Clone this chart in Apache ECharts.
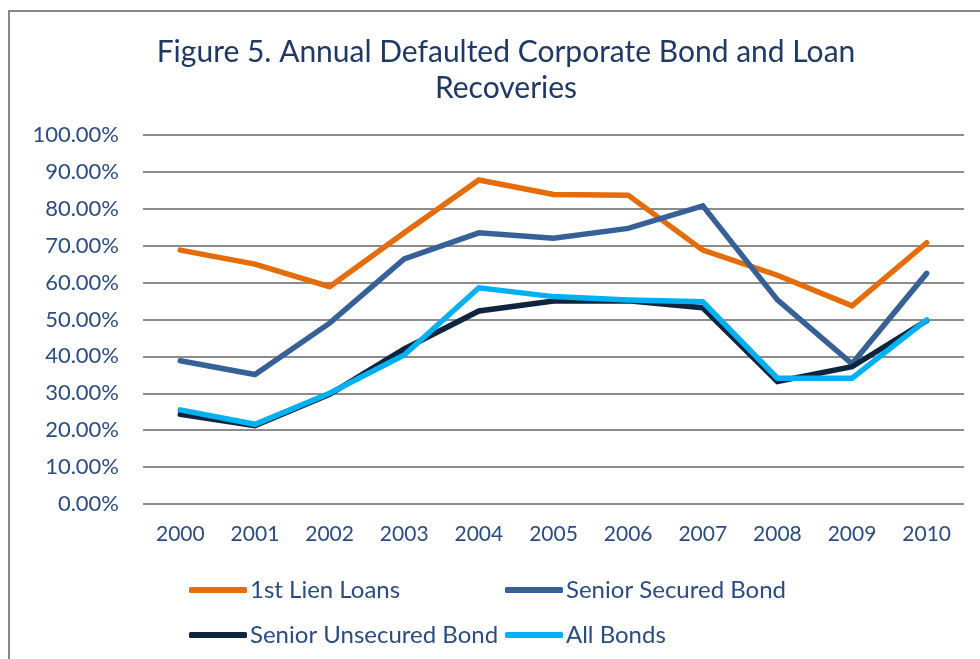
<!DOCTYPE html>
<html>
<head>
<meta charset="utf-8">
<script src="https://cdn.jsdelivr.net/npm/echarts@6/dist/echarts.min.js"></script>
<style>html,body{margin:0;padding:0;background:#fff}#c{width:980px;height:659px}</style>
</head>
<body>
<div id="c"></div>
<script>
const years = ['2000','2001','2002','2003','2004','2005','2006','2007','2008','2009','2010'];
const firstLienLoans = [68.8, 65.0, 58.9, 73.5, 87.8, 83.9, 83.7, 68.8, 62.0, 53.7, 70.8];
const seniorSecuredBond = [38.8, 35.1, 49.0, 66.4, 73.5, 72.0, 74.7, 80.8, 55.3, 38.0, 62.5];
const seniorUnsecuredBond = [24.3, 21.2, 29.7, 42.0, 52.3, 55.0, 55.1, 53.2, 33.2, 37.2, 49.7];
const allBonds = [25.5, 21.6, 30.0, 40.4, 58.6, 56.2, 55.3, 54.8, 34.1, 34.1, 49.9];
const seriesNames = ['1st Lien Loans', 'Senior Secured Bond', 'Senior Unsecured Bond', 'All Bonds'];
const seriesColors = ['#E46C0A', '#376196', '#0F243E', '#00B0F0'];

const font = 'Lato, "Open Sans", sans-serif';
const textColor = '#2B4C80';
const chart = echarts.init(document.getElementById('c'));
const dataSets = [firstLienLoans, seniorSecuredBond, seniorUnsecuredBond, allBonds];
const legendPos = [[184, 573], [500, 573], [184, 618], [500, 618]];
chart.setOption({
  animation: false,
  title: {
    text: 'Figure 5. Annual Defaulted Corporate Bond and Loan\nRecoveries',
    left: 501, top: 29, textAlign: 'center',
    textStyle: {fontFamily: font, fontSize: 30, fontWeight: 'normal', color: '#1F3864', lineHeight: 36}
  },
  graphic: [{
    type: 'polyline', silent: true,
    shape: {points: [[9, 700], [9, 11], [990, 11]]},
    style: {stroke: '#888', lineWidth: 2, fill: null}
  }],
  legend: legendPos.map((p, i) => ({
    data: [seriesNames[i]], left: p[0], top: p[1],
    icon: 'roundRect', itemWidth: 58, itemHeight: 6,
    textStyle: {fontFamily: font, fontSize: 24, color: textColor, padding: [0, 0, 0, -2]}
  })),
  grid: {left: 143, right: 16, top: 135, bottom: 155},
  xAxis: {
    type: 'category', data: years, boundaryGap: true,
    axisLine: {show: false}, axisTick: {show: false},
    axisLabel: {fontFamily: font, fontSize: 21, color: textColor, margin: 20}
  },
  yAxis: {
    type: 'value', min: 0, max: 100, interval: 10,
    axisLine: {show: false}, axisTick: {show: false},
    splitLine: {lineStyle: {color: '#8c8c8c', width: 2}},
    axisLabel: {fontFamily: font, fontSize: 22, color: textColor, margin: 24,
      formatter: v => v.toFixed(2) + '%'}
  },
  series: dataSets.map((d, i) => ({
    name: seriesNames[i], type: 'line', data: d,
    symbol: 'none', color: seriesColors[i],
    lineStyle: {width: 5.5, color: seriesColors[i], cap: 'round', join: 'miter'},
    z: 2 + i
  }))
});
</script>
</body>
</html>
